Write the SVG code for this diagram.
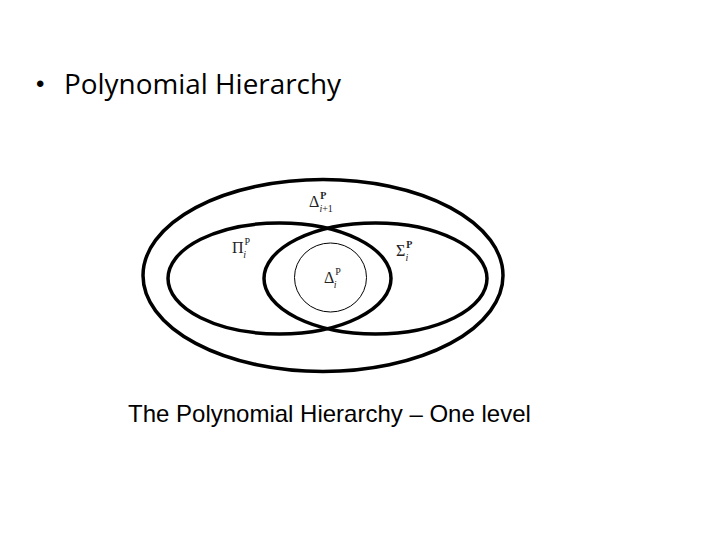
<svg xmlns="http://www.w3.org/2000/svg" width="720" height="540" viewBox="0 0 720 540">
<style>
.set{fill:none;stroke:#000;stroke-width:3.5}
.thin{fill:none;stroke:#000;stroke-width:1}
.m{font-family:"Liberation Serif","DejaVu Serif",serif;fill:#222;font-size:16px}
.s{font-size:10px}
.title{font-family:"Open Sans","Liberation Sans",sans-serif;font-size:27px;fill:#000}
.cap{font-family:"Liberation Sans",Arial,sans-serif;font-size:24px;fill:#000}
</style>
<rect width="720" height="540" fill="#fff"/>
<text x="36" y="92" font-family="Liberation Sans,sans-serif" font-size="24">•</text>
<text class="title" x="64" y="94" textLength="277" lengthAdjust="spacingAndGlyphs">Polynomial Hierarchy</text>
<g id="delta-i1">
<ellipse class="set" cx="323" cy="275.5" rx="180" ry="96" stroke-width="4"/>
<text class="m" x="309" y="207">Δ<tspan class="s" dx="1" dy="-8" font-weight="bold">P</tspan><tspan class="s" dx="-7" dy="13" font-style="italic">i</tspan><tspan class="s">+1</tspan></text>
</g>
<g id="pi">
<ellipse class="set" cx="279.5" cy="278.5" rx="111.5" ry="55.5"/>
<text class="m" x="232" y="253">Π<tspan class="s" dx="1" dy="-8">P</tspan><tspan class="s" dx="-7" dy="13" font-style="italic">i</tspan></text>
</g>
<g id="sigma">
<ellipse class="set" cx="375.5" cy="278.5" rx="111.5" ry="55.5"/>
<text class="m" x="396" y="256">Σ<tspan class="s" dx="1" dy="-8" font-weight="bold">P</tspan><tspan class="s" dx="-7" dy="13" font-style="italic">i</tspan></text>
</g>
<g id="delta-i">
<ellipse class="thin" cx="330.5" cy="277.5" rx="36" ry="34.5"/>
<text class="m" x="324" y="283">Δ<tspan class="s" dx="1" dy="-8">P</tspan><tspan class="s" dx="-7" dy="13" font-style="italic">i</tspan></text>
</g>
<text class="cap" x="128" y="422">The Polynomial Hierarchy – One level</text>
</svg>
